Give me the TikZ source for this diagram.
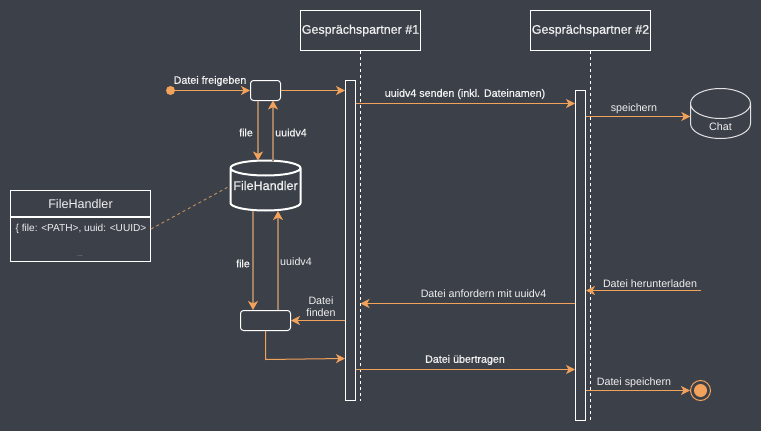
\documentclass[tikz,border=0pt]{standalone}
\usepackage{fontspec}
\setmainfont{Liberation Sans}
\newfontface\semib[FakeBold=0.7]{Liberation Sans}
\usetikzlibrary{arrows.meta}
\definecolor{bgc}{HTML}{3C4049}
\definecolor{orng}{HTML}{F2A25A}
\definecolor{brwn}{HTML}{A38163}
\definecolor{txtc}{HTML}{F0F0F0}
\tikzset{
  lbl/.style={text=txtc,font=\fontsize{10.7}{12}\selectfont,inner sep=0pt,align=center},
  lblb/.style={text=txtc,font=\semib\fontsize{10.7}{12}\selectfont,inner sep=0pt,align=center},
  boxx/.style={draw=white,line width=1pt,inner sep=0pt,text=txtc},
  header/.style={boxx,minimum width=120pt,minimum height=40pt,font=\semib\fontsize{12.5}{14}\selectfont},
  activ/.style={draw=white,line width=1pt,inner sep=0pt,minimum width=10pt},
  rbox/.style={boxx,rounded corners=3pt},
  msg/.style={draw=orng,line width=1pt,-{Stealth[length=9pt,width=9pt,inset=2.5pt,color=orng]}},
  thick brown/.style={draw=brwn,line width=2pt,-{Stealth[length=9pt,width=10pt,inset=2.5pt,color=orng]}},
  life/.style={draw=white,line width=1pt,dash pattern=on 3pt off 3pt},
}
\begin{document}
\begin{tikzpicture}[x=1pt,y=-1pt]
\useasboundingbox (0,0) rectangle (761,431);
\fill[bgc] (0,0) rectangle (761,431);

% headers and lifelines
\node[header] (h1) at (360.5,30.5) {Gesprächspartner \#1};
\node[header] (h2) at (590.5,30.5) {Gesprächspartner \#2};
\coordinate (e1) at (360.5,400.5);
\coordinate (e2) at (590.5,420.5);
\draw[life] (h1.south) -- (e1);
\draw[life] (h2.south) -- (e2);
\node[activ,fill=bgc,minimum height=320pt] (a1) at (350.5,240.5) {};
\node[activ,fill=bgc,minimum height=330pt] (a2) at (580.5,255.5) {};

% boxes
\node[circle,fill=orng,minimum size=9pt,inner sep=0pt] (start) at (170.5,90.5) {};
\node[rbox,minimum width=30pt,minimum height=20pt] (b1) at (265.5,90.5) {};
\node[rbox,minimum width=50pt,minimum height=20pt] (b2) at (265.5,320.5) {};

% FileHandler datastore
\node[inner sep=0pt,minimum width=70pt,minimum height=50pt] (fh) at (265.5,185.5) {};
\draw[draw=white,line width=2pt]
  (230.5,168) arc[start angle=180,end angle=540,x radius=35pt,y radius=7.5pt]
  (230.5,168) -- (230.5,203) arc[start angle=180,end angle=360,x radius=35pt,y radius=7.5pt] -- (300.5,168);
\node[text=txtc,font=\semib\fontsize{12.6}{14}\selectfont,inner sep=0pt] (fhl) at (265.5,185.5) {FileHandler};

% Chat datastore
\node[inner sep=0pt,minimum width=60pt,minimum height=50pt] (chat) at (720.5,113.5) {};
\draw[draw=white!85!bgc,line width=1pt]
  (690.5,103.5) arc[start angle=180,end angle=540,x radius=30pt,y radius=15pt]
  (690.5,103.5) -- (690.5,123.5) arc[start angle=180,end angle=360,x radius=30pt,y radius=15pt] -- (750.5,103.5);
\node[lbl] (chatl) at (720.5,127) {Chat};

% class box
\node[boxx,minimum width=140pt,minimum height=26pt,font=\fontsize{12.6}{14}\selectfont] (ct) at (80.5,203.5) {FileHandler};
\node[boxx,minimum width=140pt,minimum height=44pt,anchor=north] (cb) at (ct.south) {};
\node[lbl,anchor=west,font=\fontsize{10.1}{12}\selectfont] (ca) at (15.5,229) {\{ file: <PATH>, uuid: <UUID>};
\node[lbl,text=txtc!55!bgc,font=\fontsize{7}{9}\selectfont] (cd) at (80,256) {...};

% end point
\node[circle,draw=orng,line width=1pt,minimum size=20pt,inner sep=0pt] (end) at (700.5,390.5) {};
\node[circle,fill=orng,minimum size=13pt,inner sep=0pt] (endi) at (700.5,390.5) {};

% y levels
\coordinate (y1) at (0,90.5);
\coordinate (y2) at (0,103.5);
\coordinate (y3) at (0,116.5);
\coordinate (y4) at (0,303.5);
\coordinate (y5) at (0,290.5);
\coordinate (y6) at (0,320.5);
\coordinate (y7) at (0,369.5);
\coordinate (y8) at (0,358.5);
\coordinate (y9) at (0,390.5);
\coordinate (dl) at (700.5,290.5);
\coordinate (t1) at (360.5,303.5);

% connectors
\draw[msg] (start) -- (b1.west);
\draw[msg] (b1.east) -- (a1.west |- y1);
\draw[thick brown] (258,100.5) -- (258,160.5);
\draw[thick brown] (273,160.5) -- (273,100.5);
\draw[thick brown] (253,210.5) -- (253,310);
\draw[thick brown] (278,310) -- (278,211);
\draw[brwn!70!orng,line width=1pt,dash pattern=on 3pt off 3pt] (ca.east -| cb.east) -- (230,186);
\draw[msg] (a1.west |- y6) -- (b2.east);
\draw[msg,rounded corners=0pt] (b2.south) -- (265.5,359.5) -- (a1.west |- y8);
\draw[msg] (a1.east |- y2) -- (a2.west |- y2);
\draw[msg] (a2.east |- y3) -- (chat.west |- y3);
\draw[msg] (a2.west |- y4) -- (t1);
\draw[msg] (dl) -- (a2.east |- y5);
\draw[msg] (a1.east |- y7) -- (a2.west |- y7);
\draw[msg] (a2.east |- y9) -- (end.west);

% labels
\node[lblb] (l1) at (210,81) {Datei freigeben};
\node[lblb] (l2) at (246,132.5) {file};
\node[lblb] (l3) at (291,132.5) {uuidv4};
\node[lblb] (l4) at (243,263.5) {file};
\node[lbl] (l5) at (296,261.5) {uuidv4};
\node[lbl] (l6) at (321,307) {Datei\\[0pt]finden};
\node[lblb] (l7) at (465,94) {uuidv4 senden (inkl. Dateinamen)};
\node[lbl] (l8) at (634,109) {speichern};
\node[lbl] (l9) at (650,283.5) {Datei herunterladen};
\node[lbl] (l10) at (483.5,293.5) {Datei anfordern mit uuidv4};
\node[lblb] (l11) at (465,360) {Datei übertragen};
\node[lbl] (l12) at (634,382.5) {Datei speichern};
\end{tikzpicture}
\end{document}
